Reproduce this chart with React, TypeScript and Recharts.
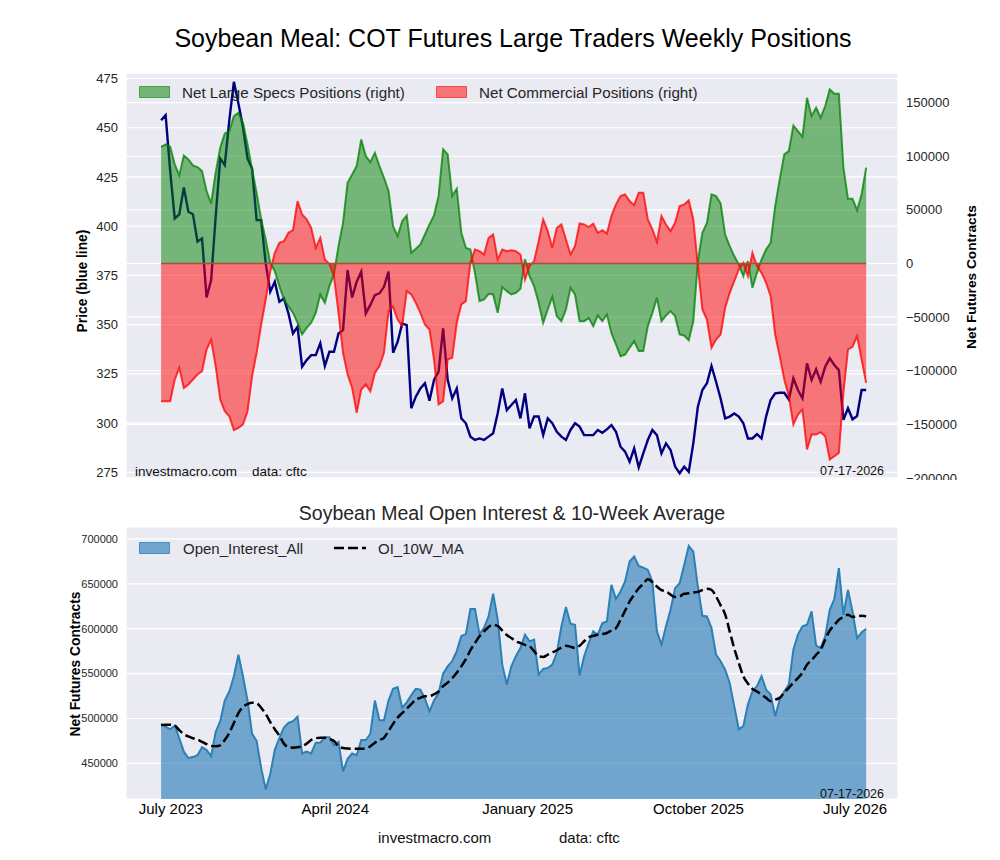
import React from 'react';
import {
  ComposedChart,
  Area,
  Line,
  XAxis,
  YAxis,
  CartesianGrid,
  ReferenceLine,
} from 'recharts';

const FONT = '"Liberation Sans", Arial, Helvetica, sans-serif';
const DAY_MS = 86400000;

// Weekly COT report dates (Tuesdays), first report in the window
const FIRST_REPORT = Date.UTC(2023, 6, 25);

// Soybean meal front-month price, USD / short ton
const price = [
  453.8, 456.4, 428, 403.9, 406, 419.7, 407.3, 406.1, 392.1, 393.8,
  363.8, 372.6, 404.8, 434.4, 431, 453.8, 473.3, 462.3, 450.4, 434.4,
  429.3, 403.1, 403.1, 381.1, 366.7, 371.8, 361.6, 363.3, 355.7, 345.5,
  348.9, 328.6, 332, 334.5, 334.5, 340.5, 329, 336.2, 336.2, 345.5,
  347.2, 377.7, 363.8, 371.8, 376.9, 355.7, 360, 365, 365.9, 369.2,
  376.9, 335.7, 341.3, 350.6, 349.8, 307.5, 313.4, 317.6, 320.2, 311.4,
  321.9, 326.1, 348.1, 322, 312.5, 317.6, 302.4, 299.9, 293.1, 291.4,
  292.2, 291.4, 293.1, 294.8, 305, 317.6, 306.6, 309.2, 311.7, 302.4,
  315.1, 297.3, 303.3, 303.3, 293.9, 302.4, 299.9, 295.6, 293.1, 291.4,
  296.5, 299.9, 298.2, 293.9, 293.9, 293.9, 296.5, 295.1, 296.8, 299,
  295.6, 288, 285.5, 280.4, 287.2, 277.5, 284.6, 291.4, 296.5, 293.9,
  284.6, 289.7, 286.3, 277.9, 274.5, 277.9, 275.3, 289.7, 308.3, 316.8,
  320.2, 329, 321, 312.5, 302.4, 303.3, 304.9, 303.3, 299.9, 292.2,
  292.2, 294.4, 292.2, 303.3, 311.7, 315.1, 315.4, 315.4, 312, 322.7,
  316.8, 312.5, 330.3, 321.9, 327.3, 321, 328.6, 332.9, 329.5, 326.9,
  301.6, 307.5, 301.9, 303.6, 316.8, 316.8,
];

// Net large speculator positions, contracts
const largeSpecsNet = [
  108800, 111000, 108800, 92400, 82100, 100700, 97000, 91400, 89900, 86100,
  67500, 56000, 84600, 107900, 121300, 123500, 137400, 140500, 131200, 111000,
  87700, 65900, 41100, 22400, 500, -7200, -21100, -33600, -39900, -46000,
  -55300, -66200, -60000, -55300, -46000, -28900, -36700, -21100, -10200, 16200,
  37900, 75300, 83000, 90800, 115700, 100100, 94500, 103200, 90800, 79900,
  67500, 34800, 25500, 39500, 44800, 10000, 13700, 17700, 27000, 36400,
  44800, 62800, 106400, 101700, 62800, 69600, 28600, 14600, 13000, -8700,
  -35100, -33600, -28300, -28900, -46000, -22000, -25800, -28900, -27300, -23600,
  4000, -11800, -21100, -36700, -55300, -42900, -31100, -49100, -53800, -42900,
  -22700, -28900, -53800, -53800, -50700, -58400, -48500, -53800, -47600, -64700,
  -75500, -86400, -84900, -78600, -72400, -81700, -81700, -58400, -46000, -32000,
  -53800, -48500, -44400, -49100, -66200, -67100, -71500, -53800, 2000, 28600,
  37900, 64400, 62800, 56000, 27000, 16200, 6900, -1000, -11800, 2200,
  -22700, -8700, 3700, 13000, 19300, 53500, 78400, 101700, 104800, 128700,
  123500, 118200, 154500, 137400, 145200, 135900, 146800, 162300, 158300, 158300,
  89300, 60300, 60300, 49700, 64400, 89300,
];

// Net commercial positions, contracts
const commercialNet = [
  -128400, -128400, -128400, -108200, -97300, -116000, -112800, -108200, -103500, -100400,
  -80200, -70900, -95700, -126800, -137700, -142400, -155400, -153300, -150100, -137700,
  -105100, -83300, -56900, -33600, -7200, 9900, 19300, 20800, 28600, 31100,
  58200, 45700, 41100, 33300, 14600, 23900, 3700, -500, -11800, -46000,
  -83300, -103500, -116000, -139300, -117500, -112800, -119100, -102000, -95700, -83300,
  -44400, -40400, -52200, -58400, -25800, -28900, -36700, -46000, -56900, -61500,
  -89500, -131500, -128400, -89500, -88000, -55300, -38200, -35100, 1000, 13000,
  11500, 8400, 23900, 27000, 3700, 13000, 11500, 12400, 11500, 8400,
  -15000, -2500, 2200, 20800, 41100, 30200, 14600, 33300, 36400, 22400,
  8400, 16200, 37300, 36400, 33900, 37000, 28600, 31100, 28000, 44200,
  55100, 62800, 64400, 58200, 54400, 66000, 66000, 41100, 31700, 19900,
  44200, 36400, 30200, 37900, 53500, 55100, 58800, 41100, -2000, -42900,
  -52200, -78600, -70900, -66200, -41300, -27400, -16500, -5600, 500, -11800,
  9900, -2500, -8700, -18000, -30400, -66200, -86400, -108200, -123700, -150100,
  -140800, -136200, -173400, -159500, -159500, -157300, -161000, -182800, -179700, -176600,
  -120600, -80200, -77700, -67700, -89500, -111300,
];

// Total open interest, contracts
const openInterest = [
  494000, 491000, 488000, 492000, 478000, 463000, 456000, 457000, 459000, 468000,
  465000, 458000, 485000, 497000, 520000, 530000, 547000, 571000, 547000, 520000,
  483000, 475000, 445000, 421000, 438000, 465000, 478000, 490000, 495000, 497000,
  502000, 461000, 463000, 461000, 473000, 473000, 479000, 479000, 470000, 474000,
  441000, 455000, 461000, 459000, 476000, 476000, 483000, 520000, 498000, 498000,
  520000, 533000, 535000, 512000, 518000, 526000, 533000, 532000, 522000, 508000,
  520000, 528000, 550000, 558000, 564000, 575000, 592000, 594000, 622000, 622000,
  594000, 601000, 613700, 638900, 610000, 560000, 537800, 558200, 569300, 578500,
  593300, 585900, 587800, 548900, 555200, 556300, 560000, 573000, 602600, 624100,
  605600, 604400, 547800, 569300, 584100, 597000, 593300, 606300, 608100, 648900,
  633000, 641500, 652600, 674800, 680400, 670000, 668100, 665500, 652600, 597000,
  582200, 602600, 621100, 645200, 650700, 671100, 692200, 685900, 647000, 614400,
  613700, 600700, 571100, 563700, 554400, 539600, 513700, 487800, 491500, 515500,
  530400, 535900, 547000, 532200, 526700, 502600, 521100, 530400, 537800, 576700,
  593300, 602600, 604400, 619300, 581100, 578500, 591500, 621100, 633000, 667400,
  615600, 643300, 619300, 589600, 595900, 600000,
];

// 10-week moving average of open interest, contracts
const openInterestMA10 = [
  492600, 493000, 493000, 492000, 487000, 482500, 480000, 478000, 476500, 474000,
  471500, 469500, 469000, 470000, 476000, 484000, 495000, 506000, 513000, 516000,
  517500, 517000, 512000, 505000, 496000, 488000, 481000, 472000, 468000, 467500,
  468000, 469000, 472000, 476000, 478000, 478500, 478500, 477000, 475000, 469000,
  467000, 466500, 466300, 466300, 466300, 466500, 469000, 473000, 476000, 478500,
  486000, 494000, 501000, 506000, 511000, 516000, 521000, 523000, 524800, 524800,
  527000, 530000, 536000, 540000, 545000, 551000, 558000, 566000, 576000, 584000,
  591500, 597000, 602000, 604400, 603000, 598000, 593000, 589600, 586000, 584000,
  582000, 580400, 575000, 569300, 568500, 571000, 573500, 576000, 579000, 581000,
  580000, 578500, 581000, 586000, 590700, 592000, 593300, 594000, 595200, 598000,
  600700, 610000, 620000, 630400, 638000, 645000, 650000, 655000, 652000, 647000,
  643000, 641500, 638000, 635200, 636000, 638900, 639500, 640400, 641000, 643000,
  644400, 643300, 636000, 626000, 616000, 597000, 578000, 562000, 547000, 539000,
  533000, 530000, 526700, 523000, 519300, 521000, 523000, 529000, 534100, 540000,
  545000, 551000, 560000, 565000, 571000, 576700, 588000, 598000, 604000, 610000,
  613000, 615600, 613000, 614000, 614400, 614000,
];

// Axis settings
const X_START = '2023-06-01';
const X_END = '2026-09-01';
const GRID_DATES = [
  '2023-09-01', '2024-01-01', '2024-05-01', '2024-09-01', '2025-01-01',
  '2025-05-01', '2025-09-01', '2026-01-01', '2026-05-01', '2026-09-01',
];
const LABEL_DATES = ['2023-08-09', '2024-04-18', '2025-02-08', '2025-10-29', '2026-06-27'];
const LABEL_TEXTS = ['July 2023', 'April 2024', 'January 2025', 'October 2025', 'July 2026'];

const PRICE_DOMAIN: [number, number] = [272.1, 477.8];
const PRICE_TICKS = [275, 300, 325, 350, 375, 400, 425, 450, 475];
const NET_DOMAIN: [number, number] = [-200000, 177600];
const NET_TICKS = [-200000, -150000, -100000, -50000, 0, 50000, 100000, 150000];
const OI_DOMAIN: [number, number] = [410300, 713300];
const OI_TICKS = [450000, 500000, 550000, 600000, 650000, 700000];

const REPORT_DATE_TEXT = '07-17-2026';

const toTime = (s: string) => Date.parse(s + 'T00:00:00Z');
const X_DOMAIN: [number, number] = [toTime(X_START), toTime(X_END)];
const gridTicks = GRID_DATES.map(toTime);
const labelTicks = LABEL_DATES.map(toTime);
const labelByTime = new Map(labelTicks.map((t, i) => [t, LABEL_TEXTS[i]]));

const rows = price.map((p, i) => ({
  t: FIRST_REPORT + i * 7 * DAY_MS,
  price: p,
  specs: largeSpecsNet[i],
  comm: commercialNet[i],
  oi: openInterest[i],
  ma: openInterestMA10[i],
}));

const netFormat = (v: number) => (v < 0 ? '\u2212' + Math.abs(v) : String(v));

const BG = '#EAEAF2';
const tickStyle = { fill: '#262626', fontSize: 13, fontFamily: FONT };

function Overlay() {
  const txt = { fontFamily: FONT } as React.CSSProperties;
  return (
    <svg
      width={1000}
      height={860}
      style={{ position: 'absolute', left: 0, top: 0, pointerEvents: 'none' }}
    >
      <text x={513} y={47} textAnchor="middle" fontSize={25} fill="#000" style={txt}>
        Soybean Meal: COT Futures Large Traders Weekly Positions
      </text>

      {/* top panel legend */}
      <rect x={139.5} y={86.5} width={30} height={11} fill="rgba(0,128,0,0.5)" stroke="rgba(0,128,0,0.6)" />
      <text x={182} y={97.5} fontSize={15.2} fill="#262626" style={txt}>Net Large Specs Positions (right)</text>
      <rect x={436.5} y={86.5} width={30} height={11} fill="rgba(255,0,0,0.5)" stroke="rgba(255,0,0,0.6)" />
      <text x={479} y={97.5} fontSize={15.2} fill="#262626" style={txt}>Net Commercial Positions (right)</text>

      <text transform="translate(87,281) rotate(-90)" textAnchor="middle" fontSize={13.8} fontWeight="bold" fill="#000" style={txt}>
        Price (blue line)
      </text>
      <text transform="translate(976,277) rotate(-90)" textAnchor="middle" fontSize={13.7} fontWeight="bold" fill="#000" style={txt}>
        Net Futures Contracts
      </text>

      <text x={135} y={476} fontSize={13.5} fill="#111" style={txt}>investmacro.com</text>
      <text x={252} y={476} fontSize={13.5} fill="#111" style={txt}>data: cftc</text>
      <text x={884} y={475} textAnchor="end" fontSize={12.5} fill="#111" style={txt}>{REPORT_DATE_TEXT}</text>

      {/* bottom panel */}
      <text x={512} y={520} textAnchor="middle" fontSize={19.5} fill="#262626" style={txt}>
        Soybean Meal Open Interest &amp; 10-Week Average
      </text>
      <rect x={139.5} y={542.5} width={30} height={11} fill="rgba(31,119,180,0.6)" stroke="rgba(31,119,180,0.7)" />
      <text x={183} y={553.5} fontSize={15} fill="#262626" style={txt}>Open_Interest_All</text>
      <line x1={334} y1={548} x2={366} y2={548} stroke="#000" strokeWidth={2.5} strokeDasharray="10 4" />
      <text x={378} y={553.5} fontSize={15} fill="#262626" style={txt}>OI_10W_MA</text>

      <text transform="translate(80,664) rotate(-90)" textAnchor="middle" fontSize={13.8} fontWeight="bold" fill="#000" style={txt}>
        Net Futures Contracts
      </text>
      <text x={884} y={798} textAnchor="end" fontSize={12.5} fill="#111" style={txt}>{REPORT_DATE_TEXT}</text>

      <text x={378} y={843} fontSize={15} fill="#111" style={txt}>investmacro.com</text>
      <text x={559} y={843} fontSize={15} fill="#111" style={txt}>data: cftc</text>
    </svg>
  );
}

export default function App() {
  return (
    <div
      style={{
        position: 'absolute',
        left: 0,
        top: 0,
        width: 1000,
        height: 860,
        background: '#fff',
        fontFamily: FONT,
      }}
    >
      {/* positions panel */}
      <div style={{ position: 'absolute', left: 0, top: 0, width: 1000, height: 480, overflow: 'hidden' }}>
        <ComposedChart width={1000} height={480} data={rows} margin={{ top: 73, right: 0, bottom: 2, left: 0 }}>
          <CartesianGrid xAxisId="date" yAxisId="price" fill={BG} stroke="#fff" strokeWidth={1.2} />
          <CartesianGrid xAxisId="date" yAxisId="net" stroke="#fff" strokeWidth={1.2} vertical={false} />
          <XAxis
            xAxisId="date"
            dataKey="t"
            type="number"
            domain={X_DOMAIN}
            ticks={gridTicks}
            tick={false}
            tickLine={false}
            axisLine={false}
            height={0}
            allowDataOverflow
          />
          <YAxis
            yAxisId="price"
            orientation="left"
            width={126}
            domain={PRICE_DOMAIN}
            ticks={PRICE_TICKS}
            tick={tickStyle}
            tickLine={false}
            axisLine={false}
            allowDataOverflow
            interval={0}
          />
          <YAxis
            yAxisId="net"
            orientation="right"
            width={102}
            domain={NET_DOMAIN}
            ticks={NET_TICKS}
            tickFormatter={netFormat}
            tick={tickStyle}
            tickLine={false}
            axisLine={false}
            allowDataOverflow
            interval={0}
          />
          <Line
            xAxisId="date"
            yAxisId="price"
            dataKey="price"
            type="linear"
            stroke="#000080"
            strokeWidth={2.4}
            dot={false}
            activeDot={false}
            isAnimationActive={false}
            zIndex={50}
          />
          <Area
            xAxisId="date"
            yAxisId="net"
            dataKey="specs"
            type="linear"
            baseValue={0}
            fill="#008000"
            fillOpacity={0.5}
            stroke="#008000"
            strokeOpacity={0.75}
            strokeWidth={2}
            dot={false}
            activeDot={false}
            isAnimationActive={false}
          />
          <Area
            xAxisId="date"
            yAxisId="net"
            dataKey="comm"
            type="linear"
            baseValue={0}
            fill="#ff0000"
            fillOpacity={0.5}
            stroke="#ff0000"
            strokeOpacity={0.75}
            strokeWidth={2}
            dot={false}
            activeDot={false}
            isAnimationActive={false}
          />
          <ReferenceLine
            xAxisId="date"
            yAxisId="net"
            stroke="#a8503a"
            strokeWidth={1.5}
            segment={[{ x: rows[0].t, y: 0 }, { x: rows[rows.length - 1].t, y: 0 }]}
          />
        </ComposedChart>
      </div>

      {/* open interest panel */}
      <div style={{ position: 'absolute', left: 0, top: 480, width: 1000, height: 380 }}>
        <ComposedChart width={1000} height={380} data={rows} margin={{ top: 47, right: 102, bottom: 31, left: 0 }}>
          <CartesianGrid xAxisId="date" yAxisId="oi" fill={BG} stroke="#fff" strokeWidth={1.2} />
          <XAxis
            xAxisId="date"
            dataKey="t"
            type="number"
            domain={X_DOMAIN}
            ticks={gridTicks}
            tick={false}
            tickLine={false}
            axisLine={false}
            height={0}
            allowDataOverflow
          />
          <XAxis
            xAxisId="label"
            dataKey="t"
            type="number"
            domain={X_DOMAIN}
            ticks={labelTicks}
            tickFormatter={(v: number) => labelByTime.get(v) ?? ''}
            tick={{ fill: '#000', fontSize: 15, fontFamily: FONT }}
            tickLine={false}
            axisLine={false}
            tickSize={2}
            tickMargin={2}
            height={30}
            interval={0}
            allowDataOverflow
          />
          <YAxis
            yAxisId="oi"
            orientation="left"
            width={126}
            domain={OI_DOMAIN}
            ticks={OI_TICKS}
            tick={{ fill: '#262626', fontSize: 11, fontFamily: FONT }}
            tickLine={false}
            axisLine={false}
            allowDataOverflow
            interval={0}
          />
          <Area
            xAxisId="date"
            yAxisId="oi"
            dataKey="oi"
            type="linear"
            baseValue={OI_DOMAIN[0]}
            fill="#1f77b4"
            fillOpacity={0.6}
            stroke="#2b80b5"
            strokeWidth={2}
            dot={false}
            activeDot={false}
            isAnimationActive={false}
          />
          <Line
            xAxisId="date"
            yAxisId="oi"
            dataKey="ma"
            type="monotone"
            stroke="#000"
            strokeWidth={2.5}
            strokeDasharray="10 4"
            dot={false}
            activeDot={false}
            isAnimationActive={false}
          />
        </ComposedChart>
      </div>

      <Overlay />
    </div>
  );
}
